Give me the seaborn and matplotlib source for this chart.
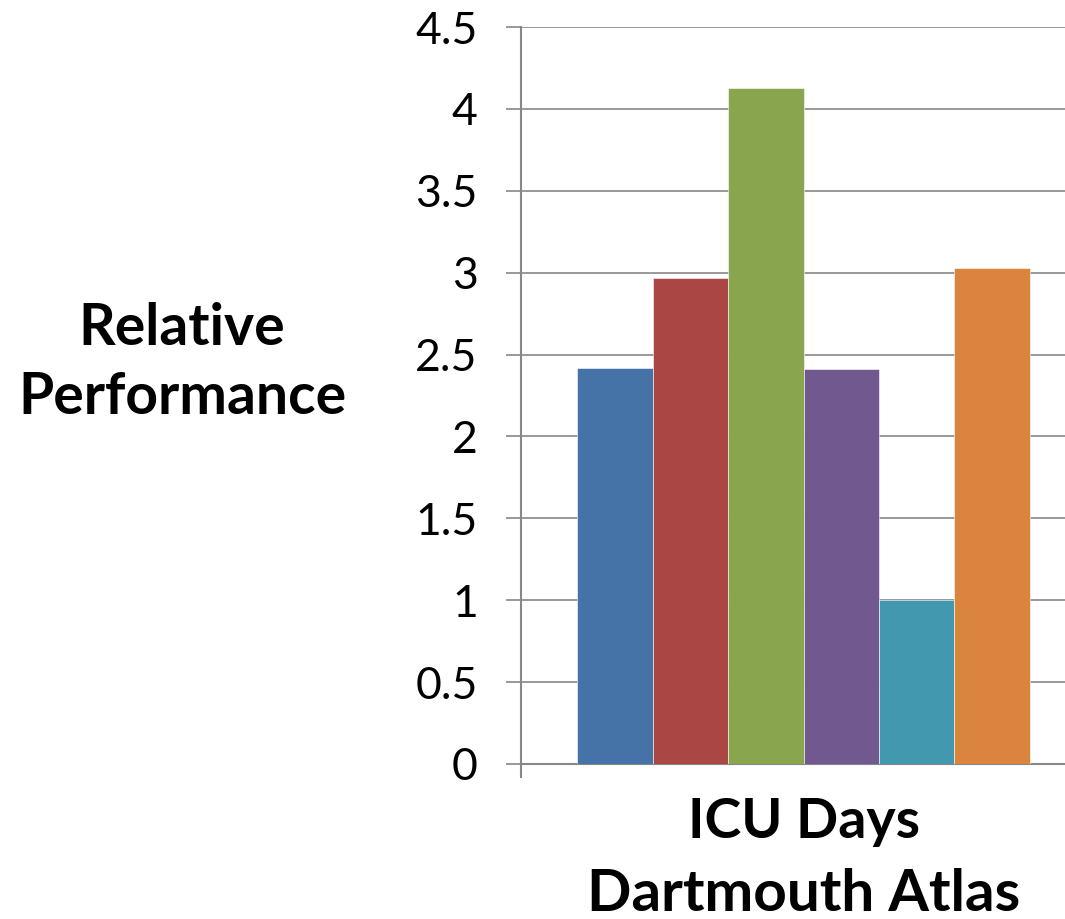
import numpy as np
import pandas as pd
import matplotlib
matplotlib.use('Agg')
import matplotlib.pyplot as plt
import seaborn as sns

# data
category = "ICU Days"
axis_title = "Dartmouth Atlas"
series = ["S1", "S2", "S3", "S4", "S5", "S6"]
values = [2.42, 2.97, 4.13, 2.41, 1.0, 3.03]
colors = ["#4572A7", "#AA4643", "#89A54E", "#71588F", "#4198AF", "#DB843D"]
yticks = [0, 0.5, 1, 1.5, 2, 2.5, 3, 3.5, 4, 4.5]
ytick_labels = ["0", "0.5", "1", "1.5", "2", "2.5", "3", "3.5", "4", "4.5"]

df = pd.DataFrame({"cat": [category] * len(series), "series": series, "value": values})

sns.set_style("white")
plt.rcParams['font.family'] = ['Lato', 'DejaVu Sans']
plt.rcParams['text.color'] = 'black'
plt.rcParams['xtick.color'] = 'black'
plt.rcParams['ytick.color'] = 'black'
grid_col = "#878787"

fig = plt.figure(figsize=(10.65, 9.19), dpi=100)
ax = fig.add_axes([0.489, 0.1687, 0.511, 0.8019])

sns.barplot(data=df, x="cat", y="value", hue="series", palette=colors,
            saturation=1, width=0.8, dodge=True, legend=False, ax=ax, zorder=3,
            edgecolor="white", linewidth=0.4)

ax.set_xlim(-0.5, 0.462)
ax.set_ylim(0, 4.5)
ax.set_yticks(yticks)
ax.set_yticklabels(ytick_labels, fontsize=32)
ax.yaxis.grid(True, color=grid_col, linewidth=1.2, zorder=0)
ax.set_axisbelow(True)

for s in ["top", "right"]:
    ax.spines[s].set_visible(False)
for s in ["left", "bottom"]:
    ax.spines[s].set_color(grid_col)
    ax.spines[s].set_linewidth(1.5)

ax.tick_params(axis="y", direction="out", length=11, width=1.2, color=grid_col,
               labelcolor="black", pad=20, left=True)
ax.set_xticks([0])
ax.set_xticklabels([category], fontsize=40, fontweight="bold", color="black")
ax.tick_params(axis="x", length=0, pad=24)
ax.set_xticks([-0.5], minor=True)
ax.tick_params(axis="x", which="minor", direction="out", length=10, width=1.5,
               color=grid_col, bottom=True)
ax.set_xlabel("")
ax.set_ylabel("")

fig.text(0.755, 0.009, axis_title, fontsize=42, fontweight="bold",
         ha="center", va="baseline", color="black")
fig.text(0.171, 0.605, "Relative\nPerformance", fontsize=41, fontweight="bold",
         ha="center", va="center", linespacing=1.35, color="black")

plt.savefig("out.png", dpi=100)
plt.close()
